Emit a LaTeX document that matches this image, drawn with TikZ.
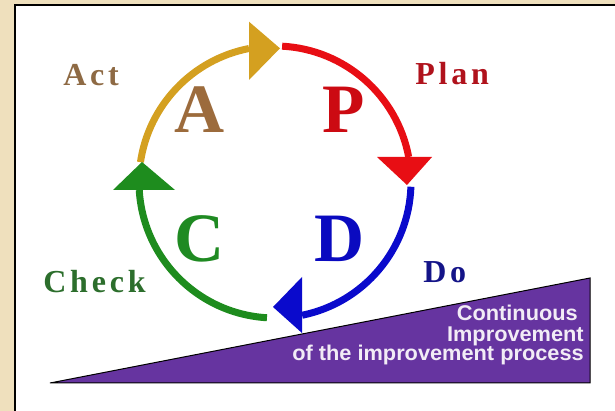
\documentclass[tikz,border=0pt]{standalone}
\usepackage{fontspec}
\setmainfont{Liberation Serif}
\newfontfamily\lblfont[LetterSpace=12]{Liberation Serif}
\newfontfamily\sansb[FakeStretch=1.02]{Liberation Sans}
\usetikzlibrary{calc}
\definecolor{beige}{HTML}{EFE0BD}
\definecolor{goldarc}{HTML}{D4A020}
\definecolor{redarc}{HTML}{E80E14}
\definecolor{bluearc}{HTML}{0A0ACC}
\definecolor{greenarc}{HTML}{1E8C1E}
\definecolor{letA}{HTML}{9C6B3C}
\definecolor{letP}{HTML}{CC0A12}
\definecolor{letC}{HTML}{1F8A22}
\definecolor{letD}{HTML}{0A0AC0}
\definecolor{txtAct}{HTML}{8E6A44}
\definecolor{txtPlan}{HTML}{B0121C}
\definecolor{txtCheck}{HTML}{2C6E2C}
\definecolor{txtDo}{HTML}{141488}
\definecolor{purp}{HTML}{6634A0}
\definecolor{ptext}{HTML}{F2ECF6}
\begin{document}
\begin{tikzpicture}[x=0.75pt,y=0.75pt,
  arcline/.style={line width=5.25pt},
  bigletter/.style={font=\fontsize{52}{52}\selectfont\bfseries, inner sep=0pt},
  lbl/.style={font=\lblfont\fontsize{24}{24}\selectfont\bfseries, inner sep=0pt, anchor=base west},
  ptxt/.style={font=\sansb\fontsize{16}{16}\selectfont\bfseries, text=ptext, inner sep=0pt, anchor=base east}]
\useasboundingbox (0,0) rectangle (615,411);
\fill[beige] (0,0) rectangle (615,411);
\fill[white] (15,0) rectangle (615,406);
\draw[line width=1.1pt] (15,-2) -- (15,406) -- (617,406);
% purple wedge
\coordinate (wl) at (50,28);
\coordinate (wt) at (590,133);
\coordinate (wb) at (590,28);
\draw[fill=purp, line width=0.75pt] (wl) -- (wt) -- (wb) -- cycle;
\node[ptxt] (t1) at (578,90) {Continuous};
\node[ptxt] (t2) at (584,69.5) {Improvement};
\node[ptxt] (t3) at (584,50) {of the improvement process};
% cycle arcs
\coordinate (O) at (275,229);
\draw[goldarc, arcline] ($(O)+(171.6:136)$) arc[start angle=171.6, end angle=101, radius=102pt];
\draw[redarc, arcline] ($(O)+(87:136)$) arc[start angle=87, end angle=10.6, radius=102pt];
\draw[bluearc, arcline] ($(O)+(-2:136)$) arc[start angle=-2, end angle=-78.5, radius=102pt];
\draw[greenarc, arcline] ($(O)+(266.6:136)$) arc[start angle=266.6, end angle=183.4, radius=102pt];
% arrowheads
\fill[goldarc] (249,389.3) -- (280,362.7) -- (249,331) -- cycle;
\fill[redarc] (377,254) -- (432,254) -- (407,226) -- cycle;
\fill[bluearc] (302,134) -- (273,104) -- (302,78) -- cycle;
\fill[greenarc] (113,221) -- (175,221) -- (142,249) -- cycle;
% big letters
\node[bigletter, text=letA, anchor=base] (A) at (200,278) {A};
\node[bigletter, text=letP, anchor=base] (P) at (343.5,278) {P};
\node[bigletter, text=letC, anchor=base] (C) at (200,149) {C};
\node[bigletter, text=letD, anchor=base] (D) at (340,149) {D};
% labels
\node[lbl, text=txtAct] (act) at (63,325) {Act};
\node[lbl, text=txtPlan] (plan) at (415,326) {Plan};
\node[lbl, text=txtCheck] (check) at (43,118) {Check};
\node[lbl, text=txtDo] (do) at (423,128) {Do};
\end{tikzpicture}
\end{document}
